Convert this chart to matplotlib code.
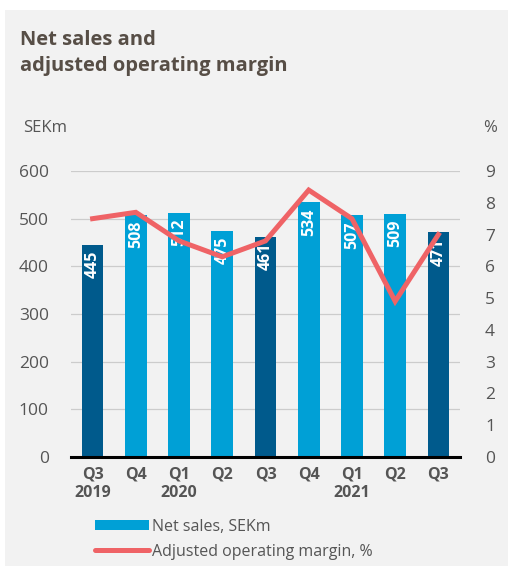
import numpy as np
import matplotlib.pyplot as plt
from matplotlib.patches import Rectangle
from matplotlib.lines import Line2D
from matplotlib.patches import Patch

quarters = ['Q3\n2019', 'Q4', 'Q1\n2020', 'Q2', 'Q3', 'Q4', 'Q1\n2021', 'Q2', 'Q3']
net_sales = [445, 508, 512, 475, 461, 534, 507, 509, 471]
margin = [7.5, 7.7, 6.8, 6.3, 6.8, 8.4, 7.5, 4.9, 7.0]

DARK = '#005a8c'
LIGHT = '#00a0d6'
RED = '#ef6366'
TXT = '#555555'
TITLE = '#574e46'
BG = '#f2f2f2'

plt.rcParams['font.family'] = ['Open Sans', 'DejaVu Sans']

W, H = 508, 566
fig = plt.figure(figsize=(W / 100, H / 100), dpi=100, facecolor='white')
fig.patches.append(Rectangle((5 / W, 0), 1 - 5 / W, 1 - 10 / H,
                             transform=fig.transFigure, facecolor=BG,
                             edgecolor='none', zorder=-10))

# axes box in pixels: x 71..460, y 171..457 (from top)
ax = fig.add_axes([71 / W, 1 - 457 / H, (460 - 71) / W, (457 - 171) / H])
ax.set_facecolor('none')
x = np.arange(len(quarters))
colors = [DARK if q.startswith('Q3') else LIGHT for q in quarters]
ax.bar(x, net_sales, width=0.5, color=colors, zorder=2)
ax.set_xlim(-0.5, len(quarters) - 0.5)
ax.set_ylim(0, 600)
ax.set_yticks(range(0, 601, 100))
ax.yaxis.grid(True, color='#cccccc', lw=0.9, zorder=0)
ax.set_axisbelow(True)
for s in ['top', 'right', 'left']:
    ax.spines[s].set_visible(False)
ax.spines['bottom'].set_color('black')
ax.spines['bottom'].set_linewidth(2.2)
ax.tick_params(axis='both', length=0, colors=TXT)
ax.tick_params(axis='y', labelsize=12.5, pad=16)
ax.set_xticks(x)
ax.set_xticklabels(quarters, fontsize=11.5, fontweight='bold', color=TXT,
                   linespacing=1.15)
ax.tick_params(axis='x', pad=7)

for xi, v in zip(x, net_sales):
    ax.text(xi, v - 12, str(v), rotation=90, ha='center', va='top',
            color='white', fontsize=11.5, fontweight='bold', zorder=4)

ax2 = ax.twinx()
ax2.plot(x, margin, color=RED, lw=3.6, zorder=5, solid_joinstyle='miter')
ax2.set_ylim(0, 9)
ax2.set_yticks(range(0, 10))
for s in ['top', 'right', 'left', 'bottom']:
    ax2.spines[s].set_visible(False)
ax2.tick_params(axis='y', length=0, colors=TXT, labelsize=12.5, pad=18)

fig.text(20 / W, 1 - 53 / H, 'Net sales and\nadjusted operating margin',
         fontsize=14.5, fontweight='bold', color=TITLE, va='center',
         linespacing=1.35)
fig.text(23 / W, 1 - 128 / H, 'SEKm', fontsize=12, color=TXT, va='center')
fig.text(490 / W, 1 - 128 / H, '%', fontsize=12, color=TXT, va='center',
         ha='center')

handles = [Patch(facecolor=LIGHT, edgecolor='none'),
           Line2D([0], [0], color=RED, lw=3.6, solid_capstyle='round')]
fig.legend(handles, ['Net sales, SEKm', 'Adjusted operating margin, %'],
           loc='upper left', bbox_to_anchor=(95 / W, 1 - 519 / H),
           frameon=False, fontsize=11.5, labelcolor=TXT, handlelength=3.4,
           handleheight=0.6, handletextpad=0.2, labelspacing=0.55,
           borderaxespad=0, borderpad=0)

fig.savefig('out.png', dpi=100, facecolor='white')
